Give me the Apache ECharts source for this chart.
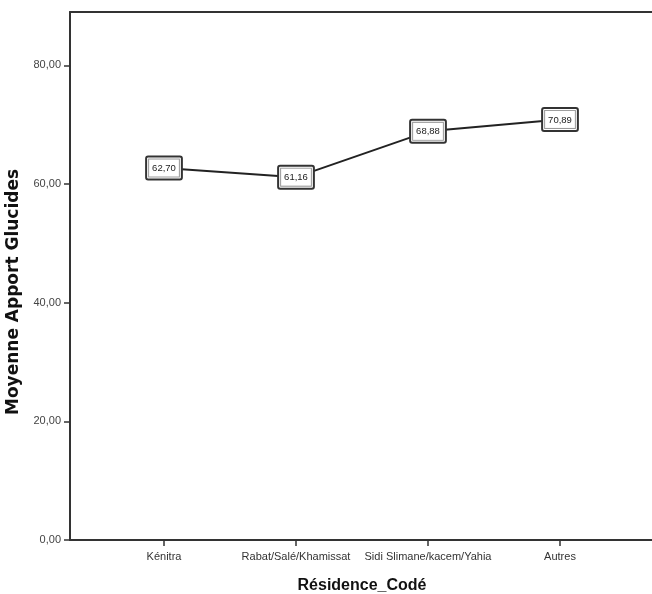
<!DOCTYPE html>
<html>
<head>
<meta charset="utf-8">
<script src="https://cdn.jsdelivr.net/npm/echarts@6/dist/echarts.min.js"></script>
<style>
html,body{margin:0;padding:0;background:#fff;}
#chart{width:652px;height:594px;}
</style>
</head>
<body>
<div id="chart"></div>
<script>
const categories = ['Kénitra', 'Rabat/Salé/Khamissat', 'Sidi Slimane/kacem/Yahia', 'Autres'];
const values = [62.70, 61.16, 68.88, 70.89];
const yTicks = [0, 20, 40, 60, 80];
const yMax = 89;
const xTitle = 'Résidence_Codé';
const yTitle = 'Moyenne Apport Glucides';

const fmt = v => v.toFixed(2).replace('.', ',');
const FONT = '"Liberation Sans", Arial, sans-serif';
const AX = '#333';

const chart = echarts.init(document.getElementById('chart'), null, {renderer: 'canvas'});
chart.setOption({
  animation: false,
  backgroundColor: '#fff',
  grid: [
    {left: 70, top: 12, right: -20, bottom: 54, containLabel: false, outerBoundsMode: 'none'},
    {left: 98, top: 12, width: 528, bottom: 54, containLabel: false, outerBoundsMode: 'none'}
  ],
  xAxis: [
    {gridIndex: 0, type: 'value', min: 0, max: 1, position: 'bottom',
     axisLine: {show: true, lineStyle: {color: AX, width: 2}},
     axisTick: {show: false}, axisLabel: {show: false}, splitLine: {show: false}},
    {gridIndex: 0, type: 'value', min: 0, max: 1, position: 'top',
     axisLine: {show: true, lineStyle: {color: AX, width: 2}},
     axisTick: {show: false}, axisLabel: {show: false}, splitLine: {show: false}},
    {gridIndex: 1, type: 'category', data: categories, boundaryGap: true,
     axisLine: {show: false},
     axisTick: {show: true, alignWithLabel: true, length: 6, lineStyle: {color: AX, width: 1.5}},
     axisLabel: {interval: 0, margin: 11, fontFamily: FONT, fontSize: 11, color: '#333'},
     name: xTitle, nameLocation: 'middle', nameGap: 38,
     nameTextStyle: {fontFamily: FONT, fontSize: 16, fontWeight: 'bold', color: '#111'}}
  ],
  yAxis: [
    {gridIndex: 0, type: 'value', min: 0, max: yMax,
     axisLine: {show: true, lineStyle: {color: AX, width: 2}},
     axisTick: {show: true, length: 6, customValues: yTicks, lineStyle: {color: AX, width: 1.5}},
     axisLabel: {customValues: yTicks, formatter: v => fmt(v), fontFamily: FONT, fontSize: 11, color: '#444', margin: 9},
     splitLine: {show: false},
     name: yTitle, nameLocation: 'middle', nameGap: 44, nameRotate: 90,
     nameTextStyle: {fontFamily: '"DejaVu Sans", sans-serif', fontSize: 17, fontWeight: 'bold', color: '#111', padding: [0, 32, 0, 0]}},
    {gridIndex: 1, type: 'value', min: 0, max: yMax, show: false, splitLine: {show: false}}
  ],
  series: [{
    type: 'line',
    xAxisIndex: 2, yAxisIndex: 1,
    data: values,
    symbol: 'circle', symbolSize: 1,
    itemStyle: {color: '#222'},
    lineStyle: {color: '#222', width: 2},
    z: 5,
    label: {
      show: true, position: 'inside',
      formatter: p => '{b|' + fmt(p.value) + '}',
      backgroundColor: '#fff', borderColor: '#333', borderWidth: 2, borderRadius: 1,
      padding: [2, 2, 2, 2],
      rich: {b: {fontFamily: FONT, fontSize: 9.5, color: '#222', backgroundColor: '#fff',
                 borderColor: '#999', borderWidth: 1, padding: [4, 3, 3, 3]}}
    }
  }]
});
</script>
</body>
</html>
